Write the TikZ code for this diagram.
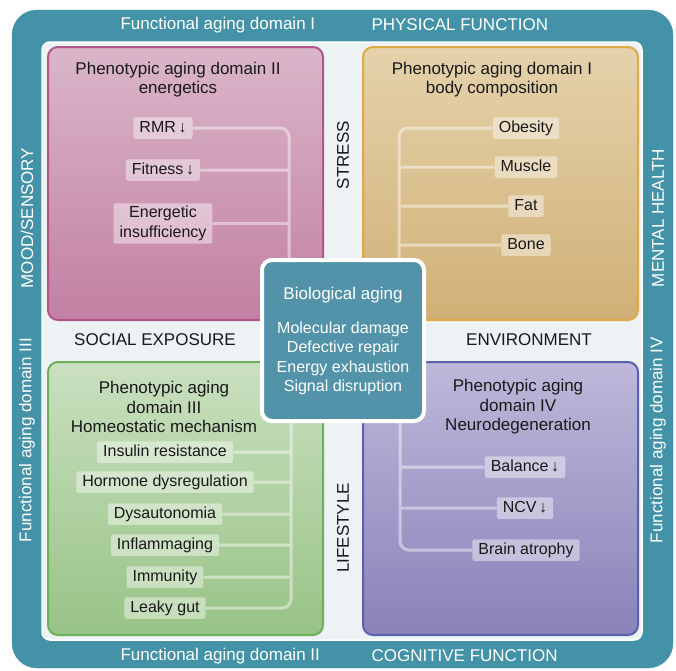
\documentclass[tikz,border=0pt]{standalone}
\usepackage{fontspec}
\setmainfont{Liberation Sans}
\usetikzlibrary{positioning}
\definecolor{frameteal}{RGB}{67,146,168}
\definecolor{coreteal}{RGB}{82,147,170}
\definecolor{panelgrey}{RGB}{237,242,245}
\definecolor{enborder}{RGB}{176,86,138}
\definecolor{entop}{RGB}{218,182,201}
\definecolor{enbot}{RGB}{194,128,162}
\definecolor{bcborder}{RGB}{221,170,70}
\definecolor{bctop}{RGB}{229,210,171}
\definecolor{bcbot}{RGB}{208,176,118}
\definecolor{hmborder}{RGB}{108,176,92}
\definecolor{hmtop}{RGB}{202,224,192}
\definecolor{hmbot}{RGB}{152,195,134}
\definecolor{ndborder}{RGB}{90,96,176}
\definecolor{ndtop}{RGB}{190,184,218}
\definecolor{ndbot}{RGB}{138,130,185}
\newcommand{\labfont}{\fontsize{17}{19.5}\selectfont}
\newcommand{\itemfont}{\fontsize{16}{19.5}\selectfont}

\begin{document}
\begin{tikzpicture}[x=1pt, y=-1pt,
  quadrant/.style={line width=2pt, rounded corners=10pt},
  title/.style={align=center, font=\labfont, text=black!90},
  rim/.style={font=\labfont, text=white},
  crosslabel/.style={font=\labfont, text=black!90},
  itembox/.style={fill=white, fill opacity=0.43, text opacity=1, text=black!90,
    rounded corners=2pt, inner xsep=6pt, inner ysep=3pt, font=\itemfont},
  oneline/.style={text height=12pt, text depth=3.5pt},
  branch/.style={draw=white, draw opacity=0.45, line width=3pt, rounded corners=9pt},
  coretext/.style={text=white, align=center}]
\useasboundingbox (0,0) rectangle (676,670);
% frame and inner panel
\draw[fill=frameteal, draw=frameteal, rounded corners=25pt] (12,10) rectangle (673,668);
\draw[fill=panelgrey, draw=white, line width=1.5pt, rounded corners=8pt] (42,42) rectangle (642,640);

% functional domains on the rim
\node[rim, anchor=west] (fad1) at (117,25) {Functional aging domain I};
\node[rim, anchor=west] (physical) at (368,25) {PHYSICAL FUNCTION};
\node[rim, anchor=west] (fad2) at (117,656) {Functional aging domain II};
\node[rim, anchor=west] (cognitive) at (368,656) {COGNITIVE FUNCTION};
\node[rim, rotate=90] (mood) at (27,218) {MOOD/SENSORY};
\node[rim, rotate=90] (fad3) at (27,440) {Functional aging domain III};
\node[rim, rotate=90] (mental) at (658,218) {MENTAL HEALTH};
\node[rim, rotate=90] (fad4) at (658,440) {Functional aging domain IV};

% four quadrants
\draw[quadrant, draw=enborder, top color=entop, bottom color=enbot] (48,47) rectangle (323,320);
\draw[quadrant, draw=bcborder, top color=bctop, bottom color=bcbot] (363,47) rectangle (638,320);
\draw[quadrant, draw=hmborder, top color=hmtop, bottom color=hmbot] (48,362) rectangle (323,635);
\draw[quadrant, draw=ndborder, top color=ndtop, bottom color=ndbot] (363,362) rectangle (638,635);

% labels between the quadrants
\node[crosslabel, rotate=90] (stress) at (343,155) {STRESS};
\node[crosslabel, rotate=90] (lifestyle) at (343,528) {LIFESTYLE};
\node[crosslabel] (social) at (155,340) {SOCIAL EXPOSURE};
\node[crosslabel] (environment) at (529,340) {ENVIRONMENT};

% domain II: energetics
\node[title] (entitle) at (178,79.5) {Phenotypic aging domain II\\energetics};
\node[itembox, oneline] (rmr) at (163,128) {RMR\,↓};
\node[itembox, oneline] (fitness) at (163,170) {Fitness\,↓};
\node[itembox, align=center] (energetic) at (163,223.5) {Energetic\\insufficiency};
\coordinate (enend) at (289,290);
\draw[branch] (rmr.east) -| (enend)
  (fitness.east) -- (fitness.east -| enend)
  (energetic.east) -- (energetic.east -| enend);

% domain I: body composition
\node[title] (bctitle) at (492,79.5) {Phenotypic aging domain I\\body composition};
\node[itembox, oneline] (obesity) at (526,128) {Obesity};
\node[itembox, oneline] (muscle) at (526,167) {Muscle};
\node[itembox, oneline] (fat) at (526,206) {Fat};
\node[itembox, oneline] (bone) at (526,245) {Bone};
\coordinate (bcend) at (399,290);
\draw[branch] (obesity.west) -| (bcend)
  (muscle.west) -- (muscle.west -| bcend)
  (fat.west) -- (fat.west -| bcend)
  (bone.west) -- (bone.west -| bcend);

% domain III: homeostatic mechanism
\node[title] (hmtitle) at (164,407) {Phenotypic aging\\domain III\\Homeostatic mechanism};
\node[itembox, oneline] (insulin) at (165,452) {Insulin resistance};
\node[itembox, oneline] (hormone) at (165,482) {Hormone dysregulation};
\node[itembox, oneline] (dysauto) at (165,514) {Dysautonomia};
\node[itembox, oneline] (inflamm) at (165,545) {Inflammaging};
\node[itembox, oneline] (immunity) at (165,577) {Immunity};
\node[itembox, oneline] (leaky) at (165,608) {Leaky gut};
\coordinate (hmend) at (291,395);
\draw[branch] (hmend) |- (leaky.east)
  (insulin.east) -- (insulin.east -| hmend)
  (hormone.east) -- (hormone.east -| hmend)
  (dysauto.east) -- (dysauto.east -| hmend)
  (inflamm.east) -- (inflamm.east -| hmend)
  (immunity.east) -- (immunity.east -| hmend);

% domain IV: neurodegeneration
\node[title] (ndtitle) at (518,407) {Phenotypic aging\\domain IV\\Neurodegeneration};
\node[itembox, oneline] (balance) at (525,467) {Balance\,↓};
\node[itembox, oneline] (ncv) at (525,508) {NCV\,↓};
\node[itembox, oneline] (atrophy) at (526,550) {Brain atrophy};
\coordinate (ndend) at (400,395);
\draw[branch] (ndend) |- (atrophy.west)
  (balance.west) -- (balance.west -| ndend)
  (ncv.west) -- (ncv.west -| ndend);

% biological aging core
\node[draw=white, line width=4pt, fill=coreteal, rounded corners=10pt,
  minimum width=162pt, minimum height=161pt] (core) at (343,340.5) {};
\node[coretext, font=\labfont] (coretitle) at (343,295) {Biological aging};
\node[coretext, font=\itemfont] (corelist) at (343,358.5)
  {Molecular damage\\Defective repair\\Energy exhaustion\\Signal disruption};
\end{tikzpicture}
\end{document}
